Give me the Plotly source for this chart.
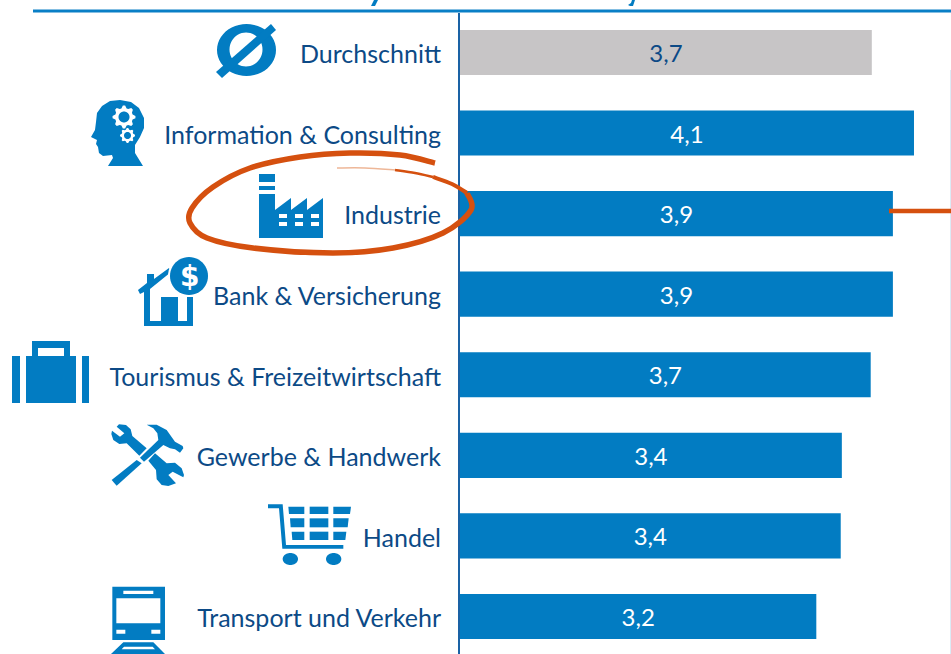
import math
import plotly.graph_objects as go

categories = ["Durchschnitt", "Information &amp; Consulting", "Industrie", "Bank &amp; Versicherung",
              "Tourismus &amp; Freizeitwirtschaft", "Gewerbe &amp; Handwerk", "Handel", "Transport und Verkehr"]
values = [3.71, 4.09, 3.90, 3.90, 3.70, 3.44, 3.43, 3.21]
value_labels = ["3,7", "4,1", "3,9", "3,9", "3,7", "3,4", "3,4", "3,2"]
bar_colors = ["#c7c5c6"] + ["#027cc2"] * 7
label_colors = ["#0c4a86"] + ["#ffffff"] * 7

W, H = 951, 654
BLUE = "#027cc2"
ORANGE = "#d5500f"
FONT = "Lato"


def X(x):
    return x / W


def Y(y):
    return 1 - y / H


def poly(pts, ox=0, oy=0, s=1.0):
    out = []
    for i, (x, y) in enumerate(pts):
        out.append(("M" if i == 0 else "L") + f"{X(ox + x * s):.5f},{Y(oy + y * s):.5f}")
    return " ".join(out) + " Z"


def ell(cx, cy, rx, ry, n=48):
    return [(cx + rx * math.cos(2 * math.pi * i / n), cy + ry * math.sin(2 * math.pi * i / n)) for i in range(n)]


def gear(cx, cy, r_out, r_in, teeth=8):
    pts = []
    n = teeth * 4
    for i in range(n):
        a = 2 * math.pi * (i - 0.5) / n
        r = r_out if i % 4 < 2 else r_in
        pts.append((cx + r * math.cos(a), cy + r * math.sin(a)))
    return pts


def smooth(pts):
    d = f"M{X(pts[0][0]):.5f},{Y(pts[0][1]):.5f}"
    for i in range(len(pts) - 1):
        p0 = pts[max(i - 1, 0)]
        p1 = pts[i]
        p2 = pts[i + 1]
        p3 = pts[min(i + 2, len(pts) - 1)]
        c1 = (p1[0] + (p2[0] - p0[0]) / 6, p1[1] + (p2[1] - p0[1]) / 6)
        c2 = (p2[0] - (p3[0] - p1[0]) / 6, p2[1] - (p3[1] - p1[1]) / 6)
        d += f" C{X(c1[0]):.5f},{Y(c1[1]):.5f} {X(c2[0]):.5f},{Y(c2[1]):.5f} {X(p2[0]):.5f},{Y(p2[1]):.5f}"
    return d


shapes = []


def fill(path, color=BLUE):
    shapes.append(dict(type="path", xref="paper", yref="paper", path=path, fillcolor=color,
                       line=dict(width=0), layer="above"))


def stroke(path, color, width):
    shapes.append(dict(type="path", xref="paper", yref="paper", path=path,
                       line=dict(color=color, width=width), layer="above"))


def hline(x0, x1, y, color, width):
    shapes.append(dict(type="line", xref="paper", yref="paper", x0=X(x0), x1=X(x1), y0=Y(y), y1=Y(y),
                       line=dict(color=color, width=width), layer="above"))


# header rule and remnants of the cut-off title
hline(33, 951, 11, "#0a7fc6", 3)
fill(poly([(371, 6), (374, 0), (378, 0), (375, 6)]))
fill(poly([(628, 5), (631, 3), (632, 0), (635, 0), (633, 6), (630, 6)]))
shapes.append(dict(type="line", xref="paper", yref="paper", x0=X(950.5), x1=X(950.5), y0=Y(70), y1=0,
                   line=dict(color="#dcebf5", width=1), layer="above"))

# Durchschnitt icon
fill(poly(ell(246.5, 50, 29.5, 26)) + " " + poly(ell(246, 49.5, 16.5, 17)))
fill(poly([(216, 72), (271, 24), (276, 30), (222, 78)]))

# head with gears
fill(poly([(108, 166), (113, 158), (112, 155), (103, 156), (99, 153), (98, 147), (96, 144), (97, 140), (91, 137),
           (95, 130), (96, 122), (97, 113), (102, 106), (110, 101), (120, 100), (131, 102), (139, 108), (144, 118),
           (144, 128), (140, 137), (135, 145), (135, 153), (143, 166)]))
fill(poly(gear(124, 117, 11.5, 9)) + " " + poly(ell(124, 117, 5.5, 5.5)), "#ffffff")
fill(poly(gear(127.5, 135.5, 7.5, 6)) + " " + poly(ell(127.5, 135.5, 3.5, 3.5)), "#ffffff")

# factory
fill(poly([(259, 174), (275, 174), (275, 182), (259, 182)]))
fill(poly([(259, 186), (275, 186), (275, 190), (259, 190)]))
fill(poly([(259, 194), (275, 194), (275, 210), (291, 198), (291, 210), (307, 198), (307, 210), (323, 198),
           (323, 238), (259, 238)]))
for wx in (279, 295, 311):
    for wy in (214, 222):
        fill(poly([(wx, wy), (wx + 8, wy), (wx + 8, wy + 4), (wx, wy + 4)]), "#ffffff")

# house with coin
fill(poly([(138, 290), (147, 283), (147, 274), (154, 274), (154, 279), (169, 268), (171, 272), (150, 289), (150, 321),
           (161, 321), (161, 297), (178, 297), (178, 321), (187, 321), (187, 297), (193, 297), (193, 326), (144, 326),
           (144, 292), (140, 294)]))
fill(poly(ell(189, 276, 21, 21)), "#ffffff")
fill(poly(ell(189, 276, 19, 19)))

# suitcase
fill(poly([(12, 356), (20, 356), (20, 403), (12, 403)]))
fill(poly([(82, 356), (89, 356), (89, 403), (82, 403)]))
fill(poly([(26, 356), (32, 356), (32, 341), (70, 341), (70, 356), (76, 356), (76, 403), (26, 403)]) + " " +
     poly([(38, 348), (64, 348), (64, 356), (38, 356)]))

# tools (100, 420 origin, 1/3 scale)
T = dict(ox=100, oy=420, s=1 / 3)
fill(poly([(57, 13), (78, 15), (92, 28), (97, 48), (140, 85), (118, 107), (80, 70), (58, 72), (40, 60), (34, 42),
           (36, 32), (60, 50), (73, 40), (50, 20)], **T))
fill(poly([(145, 122), (165, 100), (200, 130), (225, 128), (245, 145), (252, 165), (250, 172), (218, 155), (205, 165),
           (228, 190), (205, 198), (185, 195), (170, 178), (168, 150)], **T))
fill(poly([(140, 14), (170, 14), (200, 30), (225, 65), (248, 78), (250, 85), (240, 98), (225, 88), (210, 85), (190, 75),
           (132, 125), (120, 113), (175, 60), (172, 40), (160, 25)], **T))
fill(poly([(110, 120), (125, 130), (50, 197), (35, 180)], **T))

# cart (260, 495 origin)
C = dict(ox=260, oy=495, s=1 / 3)
fill(poly([(24, 28), (68, 28), (78, 150), (250, 150), (250, 161), (67, 161), (57, 40), (24, 40)], **C))
for row in ([(85, 35), (133, 35), (133, 57), (87, 57)], [(90, 70), (133, 70), (133, 97), (92, 97)],
            [(95, 110), (133, 110), (133, 135), (97, 135)], [(149, 35), (205, 35), (205, 57), (149, 57)],
            [(149, 70), (205, 70), (205, 97), (149, 97)], [(149, 110), (205, 110), (205, 135), (149, 135)],
            [(220, 35), (273, 35), (270, 57), (220, 57)], [(220, 70), (266, 70), (263, 97), (220, 97)],
            [(220, 110), (259, 110), (256, 135), (220, 135)]):
    fill(poly(row, **C))
fill(poly(ell(91, 192, 23, 18), **C))
fill(poly(ell(221, 192, 23, 18), **C))

# train (100, 580 origin)
R = dict(ox=100, oy=580, s=1 / 3)
fill(poly([(37, 20), (195, 20), (195, 180), (37, 180)], **R) + " " +
     poly([(70, 32), (160, 32), (160, 42), (70, 42)], **R) + " " +
     poly([(49, 55), (181, 55), (181, 130), (49, 130)], **R) + " " +
     poly([(49, 149), (76, 149), (76, 161), (49, 161)], **R) + " " +
     poly([(154, 149), (181, 149), (181, 161), (154, 161)], **R))
fill(poly([(70, 187), (160, 187), (195, 222), (33, 222)], **R) + " " +
     poly([(72, 200), (158, 200), (165, 208), (65, 208)], **R))

# hand-drawn highlight, tapering towards its tail
stroke(smooth([(435, 163), (400, 155), (350, 153), (300, 157), (250, 168), (213, 187), (192, 208), (190, 223),
               (207, 238), (253, 248), (333, 253), (393, 248), (443, 233), (471, 210), (467, 193)]), ORANGE, 5.5)
stroke(smooth([(467, 193), (452, 184), (433, 177)]), ORANGE, 4)
stroke(smooth([(433, 177), (415, 173), (395, 170)]), ORANGE, 2.5)
stroke(smooth([(395, 170), (365, 168), (337, 168)]), "#eeb798", 1.5)
hline(889, 951, 211, ORANGE, 4.5)

fig = go.Figure(go.Bar(
    y=categories,
    x=values,
    orientation="h",
    marker=dict(color=bar_colors, line=dict(width=0)),
    text=value_labels,
    textposition="inside",
    insidetextanchor="middle",
    textangle=0,
    constraintext="none",
    textfont=dict(family=FONT, size=24, color=label_colors),
    hoverinfo="skip",
))

fig.update_layout(
    width=W,
    height=H,
    margin=dict(l=0, r=0, t=0, b=0),
    paper_bgcolor="white",
    plot_bgcolor="white",
    showlegend=False,
    bargap=0.44,
    shapes=shapes,
    annotations=[dict(text="<b>$</b>", xref="paper", yref="paper", x=X(189), y=Y(276), xanchor="center",
                      yanchor="middle", showarrow=False,
                      font=dict(family="DejaVu Sans", size=28, color="white"))],
    xaxis=dict(domain=[460 / W, 1], range=[0, 491 / 111], visible=False, fixedrange=True),
    yaxis=dict(domain=[0, 1 - 13 / H], range=[7.466, -0.490], type="category", showline=True, linecolor="#1a62a5",
               linewidth=2, showgrid=False, zeroline=False, ticks="", ticklabelstandoff=12, ticklabelshift=-2,
               fixedrange=True, tickfont=dict(family=FONT, size=25, color="#0c4a86")),
)

fig.write_html("out.html", config=dict(displayModeBar=False),
               post_script="document.body.style.margin='0';document.documentElement.style.overflow='hidden';")
